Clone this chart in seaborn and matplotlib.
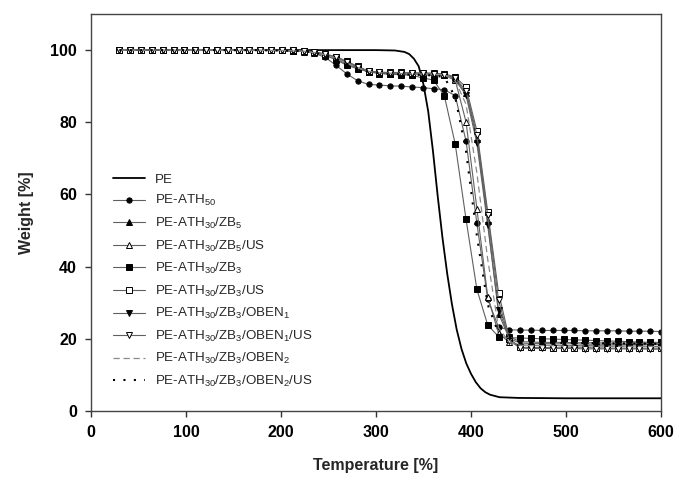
import matplotlib
matplotlib.use("Agg")
import matplotlib.pyplot as plt
import seaborn as sns

# temperatures where the marked curves were sampled
temps = [30.0, 41.4, 52.8, 64.2, 75.6, 87.0, 98.4, 109.8, 121.2, 132.6,
         144.0, 155.4, 166.8, 178.2, 189.6, 201.0, 212.4, 223.8, 235.2, 246.6,
         258.0, 269.4, 280.8, 292.2, 303.6, 315.0, 326.4, 337.8, 349.2, 360.6,
         372.0, 383.4, 394.8, 406.2, 417.6, 429.0, 440.4, 451.8, 463.2, 474.6,
         486.0, 497.4, 508.8, 520.2, 531.6, 543.0, 554.4, 565.8, 577.2, 588.6, 600.0]

# plain PE (no markers)
pe_temps = [30, 100, 200, 300, 320, 330, 335, 340, 345, 350, 355, 360, 365, 370,
            375, 380, 385, 390, 395, 400, 405, 410, 415, 420, 430, 450, 500, 550, 600]
pe_weight = [100.0, 100.0, 100.0, 100.0, 99.9, 99.5, 98.9, 97.6, 95.5, 90.5, 83.0, 72.0,
             59.5, 48.0, 38.0, 29.5, 22.5, 17.2, 13.2, 10.3, 8.0, 6.3, 5.2, 4.5, 3.8,
             3.6, 3.5, 3.5, 3.5]

ath50 = [100.0, 100.0, 100.0, 100.0, 100.0, 100.0, 100.0, 100.0, 100.0, 100.0,
         100.0, 100.0, 100.0, 100.0, 99.9, 99.9, 99.8, 99.7, 99.1, 98.0,
         95.8, 93.4, 91.5, 90.5, 90.3, 90.1, 90.0, 89.8, 89.6, 89.3,
         89.0, 87.4, 74.8, 52.0, 31.0, 23.2, 22.5, 22.4, 22.4, 22.3,
         22.3, 22.3, 22.3, 22.2, 22.2, 22.2, 22.2, 22.1, 22.1, 22.1, 22.0]

zb5 = [100.0, 100.0, 100.0, 100.0, 100.0, 100.0, 100.0, 100.0, 100.0, 100.0,
       100.0, 100.0, 100.0, 100.0, 99.9, 99.9, 99.8, 99.7, 99.4, 98.8,
       97.8, 96.5, 95.2, 94.2, 93.8, 93.6, 93.5, 93.4, 93.3, 93.2,
       93.0, 91.9, 88.2, 75.5, 52.5, 27.0, 20.0, 18.8, 18.7, 18.7,
       18.6, 18.6, 18.6, 18.5, 18.5, 18.5, 18.5, 18.4, 18.4, 18.4, 18.4]

zb5_us = [100.0, 100.0, 100.0, 100.0, 100.0, 100.0, 100.0, 100.0, 100.0, 100.0,
          100.0, 100.0, 100.0, 100.0, 99.9, 99.9, 99.8, 99.6, 99.2, 98.5,
          97.5, 96.2, 95.0, 94.0, 93.6, 93.5, 93.4, 93.3, 93.2, 93.1,
          93.0, 91.7, 80.1, 56.1, 31.7, 21.5, 19.0, 18.3, 18.2, 18.2,
          18.2, 18.1, 18.1, 18.1, 18.1, 18.0, 18.0, 18.0, 18.0, 17.9, 17.9]

zb3 = [100.0, 100.0, 100.0, 100.0, 100.0, 100.0, 100.0, 100.0, 100.0, 100.0,
       100.0, 100.0, 100.0, 100.0, 99.9, 99.9, 99.8, 99.8, 99.4, 98.6,
       97.3, 95.8, 94.8, 94.0, 93.5, 93.3, 93.2, 93.0, 92.3, 91.7,
       87.3, 74.0, 53.1, 33.7, 23.8, 20.6, 20.3, 20.2, 20.1, 20.0,
       19.9, 19.8, 19.7, 19.6, 19.5, 19.4, 19.3, 19.2, 19.1, 19.0, 19.0]

zb3_us = [100.0, 100.0, 100.0, 100.0, 100.0, 100.0, 100.0, 100.0, 100.0, 100.0,
          100.0, 100.0, 100.0, 100.0, 100.0, 99.9, 99.9, 99.8, 99.6, 98.9,
          98.2, 96.9, 95.5, 94.2, 93.9, 93.8, 93.8, 93.7, 93.7, 93.6,
          93.4, 92.6, 89.7, 77.6, 55.2, 32.8, 20.0, 17.6, 17.6, 17.6,
          17.5, 17.5, 17.5, 17.5, 17.5, 17.4, 17.4, 17.4, 17.4, 17.4, 17.4]

oben1 = [100.0, 100.0, 100.0, 100.0, 100.0, 100.0, 100.0, 100.0, 100.0, 100.0,
         100.0, 100.0, 100.0, 100.0, 99.9, 99.9, 99.8, 99.7, 99.3, 98.6,
         97.6, 96.3, 95.0, 94.0, 93.7, 93.5, 93.4, 93.3, 93.2, 93.1,
         93.0, 91.8, 87.5, 74.2, 51.4, 28.0, 20.5, 19.2, 19.1, 19.0,
         19.0, 19.0, 18.9, 18.9, 18.9, 18.8, 18.8, 18.8, 18.7, 18.7, 18.7]

oben1_us = [100.0, 100.0, 100.0, 100.0, 100.0, 100.0, 100.0, 100.0, 100.0, 100.0,
            100.0, 100.0, 100.0, 100.0, 100.0, 99.9, 99.9, 99.8, 99.5, 98.8,
            98.0, 96.7, 95.3, 94.1, 93.8, 93.7, 93.7, 93.6, 93.6, 93.5,
            93.2, 92.3, 88.7, 76.5, 54.2, 30.7, 19.5, 17.4, 17.3, 17.3,
            17.3, 17.3, 17.3, 17.2, 17.2, 17.2, 17.2, 17.2, 17.2, 17.1, 17.1]

oben2 = [100.0, 100.0, 100.0, 100.0, 100.0, 100.0, 100.0, 100.0, 100.0, 100.0,
         100.0, 100.0, 100.0, 100.0, 99.9, 99.9, 99.8, 99.7, 99.3, 98.7,
         97.7, 96.4, 95.1, 94.1, 93.7, 93.6, 93.5, 93.4, 93.3, 93.3,
         93.2, 91.5, 85.0, 66.0, 42.0, 23.0, 19.0, 18.2, 18.1, 18.1,
         18.1, 18.0, 18.0, 18.0, 18.0, 17.9, 17.9, 17.9, 17.9, 17.9, 17.8]

oben2_us = [100.0, 100.0, 100.0, 100.0, 100.0, 100.0, 100.0, 100.0, 100.0, 100.0,
            100.0, 100.0, 100.0, 100.0, 99.9, 99.9, 99.8, 99.7, 99.3, 98.6,
            97.6, 96.2, 94.9, 94.0, 93.6, 93.4, 93.3, 93.2, 93.1, 93.0,
            92.5, 87.0, 72.0, 48.5, 29.5, 21.5, 19.8, 19.0, 18.9, 18.9,
            18.9, 18.8, 18.8, 18.8, 18.8, 18.7, 18.7, 18.7, 18.7, 18.6, 18.6]

labels = ['PE', r'PE-ATH$_{50}$', r'PE-ATH$_{30}$/ZB$_5$', r'PE-ATH$_{30}$/ZB$_5$/US',
          r'PE-ATH$_{30}$/ZB$_3$', r'PE-ATH$_{30}$/ZB$_3$/US',
          r'PE-ATH$_{30}$/ZB$_3$/OBEN$_1$', r'PE-ATH$_{30}$/ZB$_3$/OBEN$_1$/US',
          r'PE-ATH$_{30}$/ZB$_3$/OBEN$_2$', r'PE-ATH$_{30}$/ZB$_3$/OBEN$_2$/US']

sns.set_style('ticks')
plt.rcParams['font.family'] = ['Liberation Sans', 'DejaVu Sans']
plt.rcParams['mathtext.fontset'] = 'custom'
plt.rcParams['mathtext.rm'] = 'Liberation Sans'
plt.rcParams['mathtext.it'] = 'Liberation Sans:italic'
plt.rcParams['mathtext.bf'] = 'Liberation Sans:bold'

fig = plt.figure(figsize=(6.78, 4.84), dpi=100)
ax = fig.add_axes([0.134, 0.151, 0.841, 0.820])

line_col = '#606060'

# PE, thick solid line
sns.lineplot(x=pe_temps, y=pe_weight, ax=ax, color='black', linewidth=1.3, label=labels[0])

# marked series: (values, marker, filled?, size)
marked = [
    (ath50, 'o', True, 3.8),
    (zb5, '^', True, 4.3),
    (zb5_us, '^', False, 4.3),
    (zb3, 's', True, 4.0),
    (zb3_us, 's', False, 4.0),
    (oben1, 'v', True, 4.3),
    (oben1_us, 'v', False, 4.3),
]
for i, (vals, mk, filled, ms) in enumerate(marked):
    sns.lineplot(x=temps, y=vals, ax=ax, color=line_col, linewidth=0.8,
                 marker=mk, markersize=ms,
                 markerfacecolor='black' if filled else 'white',
                 markeredgecolor='black', markeredgewidth=0.7,
                 label=labels[i + 1])

# dashed line without markers
sns.lineplot(x=temps, y=oben2, ax=ax, color='#8a8a8a', linewidth=0.9,
             linestyle=(0, (5, 3)), label=labels[8])
# dotted line
sns.lineplot(x=temps, y=oben2_us, ax=ax, color='black', linewidth=1.5,
             linestyle=(0, (1, 4)), label=labels[9])

ax.set_xlim(0, 600)
ax.set_ylim(0, 110)
ax.set_xticks([0, 100, 200, 300, 400, 500, 600])
ax.set_yticks([0, 20, 40, 60, 80, 100])
ax.tick_params(direction='out', length=4, width=1, colors='#333333',
               labelcolor='black', labelsize=11.5, pad=6)
for lab in ax.get_xticklabels() + ax.get_yticklabels():
    lab.set_fontweight('bold')
for sp in ax.spines.values():
    sp.set_visible(True)
    sp.set_color('#444444')
    sp.set_linewidth(1.0)

ax.set_xlabel('Temperature [%]', fontsize=11.5, fontweight='bold', labelpad=13)
ax.set_ylabel('Weight [%]', fontsize=11.5, fontweight='bold', labelpad=12)

leg = ax.legend(loc='lower left', bbox_to_anchor=(0.025, 0.035), frameon=False,
                fontsize=9.6, handlelength=2.4, handletextpad=0.75, numpoints=1,
                labelspacing=0.56, borderaxespad=0.2)

fig.savefig('out.png', dpi=100)
